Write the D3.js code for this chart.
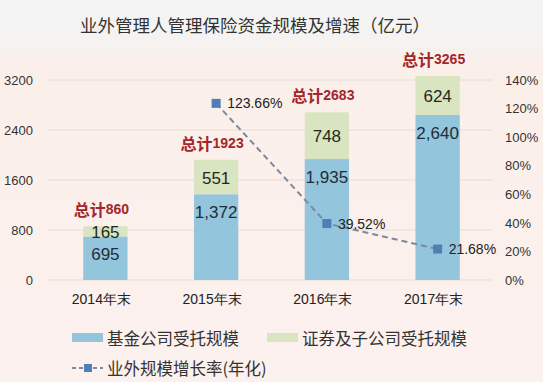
<!DOCTYPE html>
<html><head><meta charset="utf-8">
<script src="https://cdn.jsdelivr.net/npm/d3@7"></script>
<style>
html,body{margin:0;padding:0;background:#fbf1ed;}
svg{display:block;font-family:"Liberation Sans","Noto Sans CJK SC",sans-serif;}
</style></head>
<body>
<svg id="chart" width="543" height="382"></svg>
<script>
const categories = ["2014年末","2015年末","2016年末","2017年末"];
const fundValues = [695, 1372, 1935, 2640];
const securitiesValues = [165, 551, 748, 624];
const totals = [860, 1923, 2683, 3265];
const growthYears = ["2015年末","2016年末","2017年末"];
const growthRates = [123.66, 39.52, 21.68];
const leftTicks = [0, 800, 1600, 2400, 3200];
const rightTicks = [0, 20, 40, 60, 80, 100, 120, 140];
const title = "业外管理人管理保险资金规模及增速（亿元）";
const legendLabels = ["基金公司受托规模","证券及子公司受托规模","业外规模增长率(年化)"];

const W = 543, H = 382;
const svg = d3.select("#chart");
const defs = svg.append("defs");
const grad = defs.append("linearGradient").attr("id","bg").attr("x1",0).attr("x2",0).attr("y1",0).attr("y2",1);
grad.append("stop").attr("offset","0").attr("stop-color","#f4f4f4");
grad.append("stop").attr("offset","0.1").attr("stop-color","#f5f3f2");
grad.append("stop").attr("offset","0.17").attr("stop-color","#fbefea");
grad.append("stop").attr("offset","1").attr("stop-color","#fbf1ee");
svg.append("rect").attr("width",W).attr("height",H).attr("fill","url(#bg)");

const x = d3.scaleBand().domain(categories).range([50, 493]).paddingInner(0.6).paddingOuter(0.3);
const y = d3.scaleLinear().domain([0, 3200]).range([280, 80]);
const y2 = d3.scaleLinear().domain([0, 140]).range([280, 80]);

// gridlines
svg.append("g").selectAll("line").data(leftTicks).join("line")
  .attr("x1", 48).attr("x2", 493)
  .attr("y1", d => y(d)).attr("y2", d => y(d))
  .attr("stroke", "#e6dcd8").attr("stroke-width", 1);

// left axis
const la = svg.append("g").attr("transform","translate(33,0)")
  .call(d3.axisLeft(y).tickValues(leftTicks).tickSize(0).tickPadding(0).tickFormat(d3.format("d")));
la.select(".domain").remove();
la.selectAll("text").attr("font-size", 13).attr("fill", "#333");

// right axis
const ra = svg.append("g").attr("transform","translate(505,0)")
  .call(d3.axisRight(y2).tickValues(rightTicks).tickSize(0).tickPadding(0).tickFormat(d => d + "%"));
ra.select(".domain").remove();
ra.selectAll("text").attr("font-size", 13).attr("fill", "#333");

// x axis labels
const xa = svg.append("g").attr("transform","translate(-4,292)")
  .call(d3.axisBottom(x).tickSize(0).tickPadding(0));
xa.select(".domain").remove();
xa.selectAll("text").attr("font-size", 14).attr("fill", "#222").attr("dy","0.85em");

const blue = "#93c5dc", green = "#d9e4c1";
// bars
const g = svg.append("g");
g.selectAll("rect.fund").data(categories).join("rect").attr("class","fund")
  .attr("x", d => x(d)).attr("width", x.bandwidth())
  .attr("y", (d,i) => y(fundValues[i])).attr("height", (d,i) => y(0) - y(fundValues[i]))
  .attr("fill", blue);
g.selectAll("rect.sec").data(categories).join("rect").attr("class","sec")
  .attr("x", d => x(d)).attr("width", x.bandwidth())
  .attr("y", (d,i) => y(fundValues[i] + securitiesValues[i]))
  .attr("height", (d,i) => y(fundValues[i]) - y(fundValues[i] + securitiesValues[i]))
  .attr("fill", green);

// labels
const fmt = d3.format(",");
g.selectAll("text.fl").data(categories).join("text").attr("class","fl")
  .attr("x", d => x(d) + x.bandwidth()/2)
  .attr("y", (d,i) => y(fundValues[i]) + 18)
  .attr("text-anchor","middle").attr("dominant-baseline","central")
  .attr("font-size", 17).attr("fill", "#1f2d3a")
  .text((d,i) => fmt(fundValues[i]));
g.selectAll("text.sl").data(categories).join("text").attr("class","sl")
  .attr("x", d => x(d) + x.bandwidth()/2)
  .attr("y", (d,i) => (y(fundValues[i]) + y(fundValues[i] + securitiesValues[i]))/2 + 1)
  .attr("text-anchor","middle").attr("dominant-baseline","central")
  .attr("font-size", 17).attr("fill", "#1f2a1a")
  .text((d,i) => fmt(securitiesValues[i]));

// totals
const tt = g.selectAll("text.tot").data(categories).join("text").attr("class","tot")
  .attr("x", d => x(d) + x.bandwidth()/2 - 4)
  .attr("y", (d,i) => y(fundValues[i] + securitiesValues[i]) - 17)
  .attr("text-anchor","middle").attr("dominant-baseline","central")
  .attr("fill", "#a3262c").attr("font-weight","bold");
tt.append("tspan").attr("font-size", 16).attr("font-family","Noto Sans CJK SC").text("总计");
tt.append("tspan").attr("font-size", 14).text((d,i) => totals[i]);

// line
const cx = d => x(d) + x.bandwidth()/2;
const lineColor = "#7d8a9c", markerColor = "#4f7fb5";
svg.append("path").datum(growthYears)
  .attr("d", d3.line().x(d => cx(d)).y((d,i) => y2(growthRates[i])))
  .attr("fill","none").attr("stroke", lineColor).attr("stroke-width", 2).attr("stroke-dasharray","6,4");
svg.append("g").selectAll("rect").data(growthYears).join("rect")
  .attr("x", d => cx(d) - 4.5).attr("y", (d,i) => y2(growthRates[i]) - 4.5)
  .attr("width", 9).attr("height", 9).attr("fill", markerColor);
svg.append("g").selectAll("text").data(growthYears).join("text")
  .attr("x", d => cx(d) + 11).attr("y", (d,i) => y2(growthRates[i]))
  .attr("dominant-baseline","central").attr("font-size", 14).attr("fill","#222")
  .text((d,i) => growthRates[i].toFixed(2) + "%");

// title
svg.append("text").attr("x", 255).attr("y", 24).attr("text-anchor","middle")
  .attr("dominant-baseline","central").attr("font-size", 17.5).attr("fill","#333")
  .attr("font-family","Noto Sans CJK SC").text(title);

// legend
const lg = svg.append("g");
lg.append("rect").attr("x",72).attr("y",333).attr("width",31).attr("height",9).attr("fill",blue);
lg.append("text").attr("x",107).attr("y",338).attr("dominant-baseline","central").attr("font-size",16.5)
  .attr("fill","#333").attr("font-family","Noto Sans CJK SC").text(legendLabels[0]);
lg.append("rect").attr("x",267).attr("y",333).attr("width",31).attr("height",9).attr("fill",green);
lg.append("text").attr("x",302).attr("y",338).attr("dominant-baseline","central").attr("font-size",16.5)
  .attr("fill","#333").attr("font-family","Noto Sans CJK SC").text(legendLabels[1]);
lg.append("line").attr("x1",72).attr("x2",103).attr("y1",368).attr("y2",368)
  .attr("stroke",lineColor).attr("stroke-width",2).attr("stroke-dasharray","4,3");
lg.append("rect").attr("x",84).attr("y",364).attr("width",8).attr("height",8).attr("fill",markerColor);
lg.append("text").attr("x",107).attr("y",368).attr("dominant-baseline","central").attr("font-size",16.5)
  .attr("fill","#333").attr("font-family","Noto Sans CJK SC").text(legendLabels[2]);
</script>
</body></html>
